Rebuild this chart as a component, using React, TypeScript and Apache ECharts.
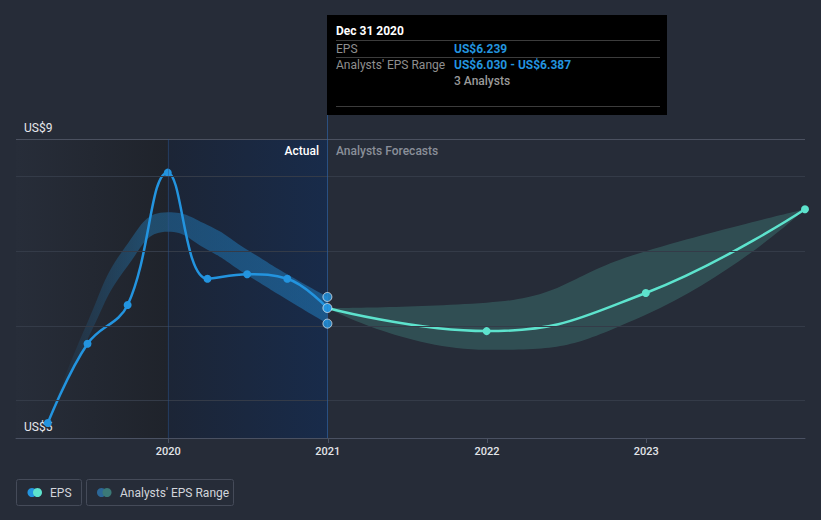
import React, { useEffect, useRef } from "react";
import * as echarts from "echarts";

// ---- data ----
const pastDates = ["2019-03-31", "2019-06-30", "2019-09-30", "2019-12-31", "2020-03-31", "2020-06-30", "2020-09-30", "2020-12-31"];
const pastEps = [4.7, 5.76, 6.28, 8.05, 6.63, 6.69, 6.63, 6.239];
const pastLow = [4.7, 5.82, 6.8, 7.26, 7.02, 6.68, 6.35, 6.03];
const pastHigh = [4.7, 6.05, 7.1, 7.52, 7.35, 7.02, 6.69, 6.387];

const fcDates = ["2020-12-31", "2021-12-31", "2022-12-31", "2023-12-31"];
const fcEps = [6.239, 5.93, 6.44, 7.56];
const fcLow = [6.239, 5.68, 6.15, 7.56];
const fcHigh = [6.239, 6.31, 7.0, 7.56];

const gridValues = [5, 6, 7, 8];
const yMin = 4.5;
const yMax = 8.5;
const yStep = 0.5;
const xMin = "2019-01-17";
const xMax = "2023-12-31";
const yearStart = "2019-12-31";
const nowDate = "2020-12-31";
const tooltipDate = "Dec 31 2020";
const analystsCount = 3;

const BLUE = "#2394df";
const TEAL = "#5de3cd";
const FONT = "Roboto, sans-serif";

export default function App() {
  const ref = useRef<HTMLDivElement>(null);

  useEffect(() => {
    document.body.style.margin = "0";
    if (!ref.current) return;
    const chart = echarts.init(ref.current, undefined, { renderer: "svg" });

    const last = pastEps.length - 1;
    const fmt = (v: number) => `US$${v.toFixed(3)}`;
    const yLabel = (v: number) => `US$${Math.round(v)}`;

    const option: any = {
      animation: false,
      backgroundColor: "#262c38",
      textStyle: { fontFamily: FONT },
      grid: { left: 16, right: 16, top: 139, bottom: 82 },
      xAxis: {
        type: "time",
        min: xMin,
        max: xMax,
        minInterval: 365 * 24 * 3600 * 1000,
        axisLine: { lineStyle: { color: "#4a5162", width: 1 } },
        axisTick: { show: true, length: 5, lineStyle: { color: "#4a5162" } },
        axisLabel: {
          formatter: "{yyyy}",
          color: "#e2e4e8",
          fontSize: 11,
          fontWeight: 500,
          margin: 8,
          showMinLabel: false,
          showMaxLabel: false,
        },
        splitLine: { show: false },
      },
      yAxis: {
        type: "value",
        min: yMin,
        max: yMax,
        interval: yStep,
        axisLine: { show: false },
        axisTick: { show: false },
        axisLabel: {
          show: true,
          inside: true,
          margin: 8,
          align: "left",
          verticalAlign: "bottom",
          padding: [0, 0, 5, 0],
          color: "#e6e8ec",
          fontSize: 12,
          formatter: (v: number) => (Math.abs(v - yMax) < 1e-6 ? yLabel(v) : ""),
        },
        splitLine: { show: false },
      },
      series: [
        {
          name: "pastLow",
          type: "line",
          stack: "past",
          smooth: 0.5,
          symbol: "none",
          lineStyle: { opacity: 0 },
          data: pastDates.map((d, i) => [d, pastLow[i]]),
          markArea: {
            silent: true,
            data: [
              [
                {
                  xAxis: xMin,
                  itemStyle: {
                    color: new echarts.graphic.LinearGradient(0, 0, 1, 0, [
                      { offset: 0, color: "#272d39" },
                      { offset: 1, color: "#1f232b" },
                    ]),
                  },
                },
                { xAxis: yearStart },
              ],
              [
                {
                  xAxis: yearStart,
                  itemStyle: {
                    color: new echarts.graphic.LinearGradient(0, 0, 1, 0, [
                      { offset: 0, color: "#1c2536" },
                      { offset: 1, color: "#182b4a" },
                    ]),
                  },
                },
                { xAxis: nowDate },
              ],
            ],
          },
        },
        {
          name: "pastRange",
          type: "line",
          stack: "past",
          smooth: 0.5,
          symbol: "none",
          lineStyle: { opacity: 0 },
          areaStyle: {
            color: new echarts.graphic.LinearGradient(0, 0, 1, 0, [
              { offset: 0, color: "rgba(35,148,223,0.0)" },
              { offset: 0.35, color: "rgba(35,148,223,0.5)" },
              { offset: 1, color: "rgba(35,148,223,0.6)" },
            ]),
          },
          data: pastDates.map((d, i) => [d, pastHigh[i] - pastLow[i]]),
          markLine: {
            silent: true,
            symbol: "none",
            animation: false,
            label: { show: false },
            data: [
              ...gridValues.map((v) => ({
                yAxis: v,
                lineStyle: { color: "#343b48", width: 1, type: "solid" },
              })),
              {
                yAxis: yMax,
                lineStyle: { color: "#4b5160", width: 1, type: "solid" },
              },
              {
                xAxis: yearStart,
                lineStyle: { color: "rgba(45,85,140,0.45)", width: 1, type: "solid" },
              },
              {
                xAxis: nowDate,
                lineStyle: { color: "rgba(45,95,160,0.7)", width: 1, type: "solid" },
              },
            ],
          },
        },
        {
          name: "fcLow",
          type: "line",
          stack: "fc",
          smooth: 0.5,
          symbol: "none",
          lineStyle: { opacity: 0 },
          data: fcDates.map((d, i) => [d, fcLow[i]]),
        },
        {
          name: "fcRange",
          type: "line",
          stack: "fc",
          smooth: 0.5,
          symbol: "none",
          lineStyle: { opacity: 0 },
          areaStyle: { color: "rgba(94,226,204,0.27)" },
          data: fcDates.map((d, i) => [d, fcHigh[i] - fcLow[i]]),
        },
        {
          name: "EPS",
          type: "line",
          smooth: 0.4,
          z: 4,
          symbol: "circle",
          symbolSize: 8,
          showSymbol: true,
          showAllSymbol: true,
          clip: false,
          itemStyle: { color: BLUE },
          lineStyle: { color: BLUE, width: 2.5 },
          data: pastDates.map((d, i) => [d, pastEps[i]]),
        },
        {
          name: "EPS forecast",
          type: "line",
          smooth: 0.45,
          symbol: "circle",
          symbolSize: 8,
          itemStyle: { color: TEAL },
          lineStyle: { color: TEAL, width: 2.5 },
          data: fcDates.map((d, i) => [d, fcEps[i]]),
        },
        {
          name: "now",
          type: "scatter",
          z: 5,
          symbolSize: 9,
          itemStyle: { color: BLUE, borderColor: "rgba(255,255,255,0.8)", borderWidth: 1 },
          data: [
            [pastDates[last], pastHigh[last]],
            [pastDates[last], pastEps[last]],
            [pastDates[last], pastLow[last]],
          ],
        },
      ],
      graphic: [
        {
          type: "line",
          silent: true,
          shape: { x1: 327.5, y1: 115, x2: 327.5, y2: 139 },
          style: { stroke: "rgba(45,95,160,0.7)", lineWidth: 1 },
        },
        {
          type: "text",
          x: 24,
          y: 427,
          z: 3,
          style: { text: yLabel(yMin), fill: "#e6e8ec", font: `12px ${FONT}`, align: "left", verticalAlign: "middle" },
        },
        {
          type: "text",
          x: 319,
          y: 151,
          z: 10,
          style: { text: "Actual", fill: "#ffffff", font: `500 12px ${FONT}`, align: "right", verticalAlign: "middle" },
        },
        {
          type: "text",
          x: 336,
          y: 151,
          z: 10,
          style: { text: "Analysts Forecasts", fill: "#8a8f99", font: `500 12px ${FONT}`, align: "left", verticalAlign: "middle" },
        },
        {
          type: "group",
          x: 327,
          y: 15,
          children: [
            { type: "rect", shape: { x: 0, y: 0, width: 340, height: 100 }, style: { fill: "#000000" } },
            { type: "text", x: 9, y: 16, style: { text: tooltipDate, fill: "#ffffff", font: `bold 12px ${FONT}`, verticalAlign: "middle" } },
            { type: "line", shape: { x1: 9, y1: 25.5, x2: 333, y2: 25.5 }, style: { stroke: "#3c3c3c", lineWidth: 1 } },
            { type: "text", x: 9, y: 34, style: { text: "EPS", fill: "#8f8f8f", font: `12px ${FONT}`, verticalAlign: "middle" } },
            { type: "text", x: 127, y: 34, style: { text: fmt(pastEps[last]), fill: BLUE, font: `bold 12px ${FONT}`, verticalAlign: "middle" } },
            { type: "line", shape: { x1: 9, y1: 42.5, x2: 333, y2: 42.5 }, style: { stroke: "#3c3c3c", lineWidth: 1 } },
            { type: "text", x: 9, y: 50, style: { text: "Analysts' EPS Range", fill: "#8f8f8f", font: `12px ${FONT}`, verticalAlign: "middle" } },
            { type: "text", x: 127, y: 50, style: { text: `${fmt(pastLow[last])} - ${fmt(pastHigh[last])}`, fill: BLUE, font: `bold 12px ${FONT}`, verticalAlign: "middle" } },
            { type: "text", x: 127, y: 66, style: { text: `${analystsCount} Analysts`, fill: "#9a9a9a", font: `500 12px ${FONT}`, verticalAlign: "middle" } },
            { type: "line", shape: { x1: 9, y1: 91.5, x2: 333, y2: 91.5 }, style: { stroke: "#3c3c3c", lineWidth: 1 } },
          ],
        },
        {
          type: "group",
          x: 0,
          y: 0,
          children: [
            { type: "rect", shape: { x: 16.5, y: 479.5, width: 65, height: 26, r: 2 }, style: { fill: "transparent", stroke: "#454b59", lineWidth: 1 } },
            { type: "circle", shape: { cx: 32, cy: 492.5, r: 4.5 }, style: { fill: BLUE } },
            { type: "circle", shape: { cx: 37.5, cy: 492.5, r: 4.5 }, style: { fill: TEAL } },
            { type: "text", x: 50, y: 492.5, style: { text: "EPS", fill: "#d2d5db", font: `12px ${FONT}`, verticalAlign: "middle" } },
            { type: "rect", shape: { x: 86.5, y: 479.5, width: 147, height: 26, r: 2 }, style: { fill: "transparent", stroke: "#454b59", lineWidth: 1 } },
            { type: "circle", shape: { cx: 101.5, cy: 492.5, r: 4.5 }, style: { fill: "#2c6797" } },
            { type: "circle", shape: { cx: 107, cy: 492.5, r: 4.5 }, style: { fill: "#3b7977" } },
            { type: "text", x: 120, y: 492.5, style: { text: "Analysts' EPS Range", fill: "#d2d5db", font: `12px ${FONT}`, verticalAlign: "middle" } },
          ],
        },
      ],
    };

    chart.setOption(option);
    return () => chart.dispose();
  }, []);

  return <div ref={ref} style={{ width: 821, height: 520 }} />;
}
